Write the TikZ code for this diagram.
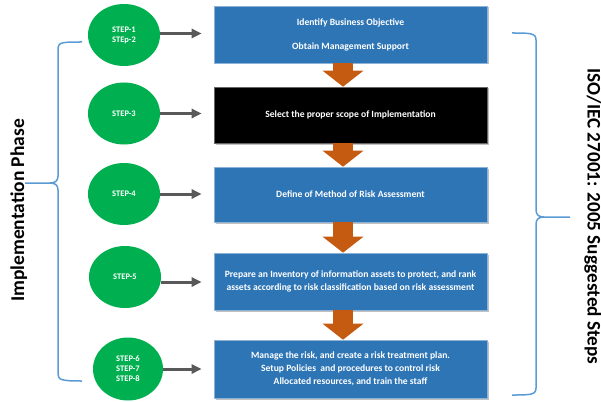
\documentclass[tikz,border=0pt]{standalone}
\usepackage{fontspec}
\setmainfont{Carlito}
\usetikzlibrary{arrows.meta,shapes.geometric,shadows}
\definecolor{boxblue}{RGB}{46,117,182}
\definecolor{stepgreen}{RGB}{0,176,80}
\definecolor{orangearr}{RGB}{197,90,17}
\definecolor{grayarr}{RGB}{89,89,89}
\definecolor{braceblue}{RGB}{91,155,213}
\begin{document}
\begin{tikzpicture}[x=1pt,y=-1pt,
  box/.style={rectangle, fill=boxblue, draw=boxblue!55!white, line width=0.6pt,
    minimum width=273pt, text=white, font=\fontsize{9.6}{13}\selectfont\bfseries,
    align=center, inner sep=0pt,
    drop shadow={shadow xshift=1.5pt,shadow yshift=-1.5pt,opacity=0.35,fill=black!70}},
  stepell/.style={ellipse, fill=stepgreen, minimum width=72pt, minimum height=62pt,
    inner sep=0pt, text=white, font=\fontsize{8.5}{10}\selectfont\bfseries, align=center},
  orangearrow/.style={draw=orangearr, line width=20pt, -{Triangle[width=40pt,length=16pt]}},
  grayarrow/.style={draw=grayarr, line width=3pt, -{Triangle[width=9pt,length=10pt]}, shorten >=12pt},
  brace/.style={draw=braceblue, line width=1.5pt},
  sidetext/.style={inner sep=0pt, font=\fontsize{19.2}{19.2}\selectfont\bfseries, text=black}
]
\useasboundingbox (0,0) rectangle (601,401);

% boxes
\node[box, minimum height=57pt] (b1) at (350.5,34.5) {Identify Business Objective\\[11pt]Obtain Management Support};
\node[box, fill=black, draw=black!60, minimum height=56pt] (b2) at (350.5,115) {Select the proper scope of Implementation};
\node[box, minimum height=55pt] (b3) at (350.5,194.5) {Define of Method of Risk Assessment};
\node[box, minimum height=57pt] (b4) at (350.5,281.5) {Prepare an Inventory of information assets to protect, and rank\\assets according to risk classification based on risk assessment};
\node[box, minimum height=58pt] (b5) at (350.5,369) {Manage the risk, and create a risk treatment plan.\\Setup Policies\ \ and procedures to control risk\\Allocated resources, and train the staff};

% steps
\node[stepell] (e1) at (124,35) {STEP-1\\STEp-2};
\node[stepell] (e2) at (124,113.5) {STEP-3};
\node[stepell] (e3) at (124,194) {STEP-4};
\node[stepell] (e4) at (125,277) {STEP-5};
\node[stepell, minimum width=70pt, minimum height=63pt] (e5) at (128,369) {STEP-6\\STEP-7\\STEP-8};

% orange block arrows
\draw[orangearrow] ([xshift=-7.5pt]b1.south) -- ([xshift=-7.5pt]b2.north);
\draw[orangearrow] ([xshift=-7.5pt]b2.south) -- ([xshift=-7.5pt]b3.north);
\draw[orangearrow] ([xshift=-7.5pt]b3.south) -- ([xshift=-7.5pt]b4.north);
\draw[orangearrow] ([xshift=-7.5pt]b4.south) -- ([xshift=-7.5pt]b5.north);

% gray arrows
\draw[grayarrow] ([yshift=1.5pt]e1.east) -- ([yshift=1.5pt]e1.east -| b1.west);
\draw[grayarrow] (e2.east) -- (e2.east -| b2.west);
\draw[grayarrow] (e3.east) -- (e3.east -| b3.west);
\draw[grayarrow] ([yshift=-5pt]e4.east) -- ([yshift=-5pt]e4.east -| b4.west);
\draw[grayarrow] (e5.east) -- (e5.east -| b5.west);

% left brace
\draw[brace] (82,42) .. controls (64,42) and (58,42) .. (58,48) -- (58,176)
  .. controls (58,181) and (55,183) .. (50,183) -- (25,183);
\draw[brace] (50,183) .. controls (55,183) and (58,185) .. (58,190) -- (58,374)
  .. controls (58,380) and (62,381) .. (82,381);

% right brace
\draw[brace] (512,33) .. controls (530,33) and (536,33) .. (536,40) -- (536,210)
  .. controls (536,215) and (539,217) .. (544,217) -- (570,217);
\draw[brace] (544,217) .. controls (539,217) and (536,219) .. (536,224) -- (536,388)
  .. controls (536,395) and (530,395) .. (512,395);

% side texts
\node[sidetext, rotate=90, anchor=base, font=\fontsize{19.5}{19.5}\selectfont\bfseries] (lt) at (24,210.5) {Implementation Phase};
\node[sidetext, rotate=-90, anchor=base] (rt) at (587.5,216.5) {ISO/IEC 27001: 2005 Suggested Steps};
\end{tikzpicture}
\end{document}
